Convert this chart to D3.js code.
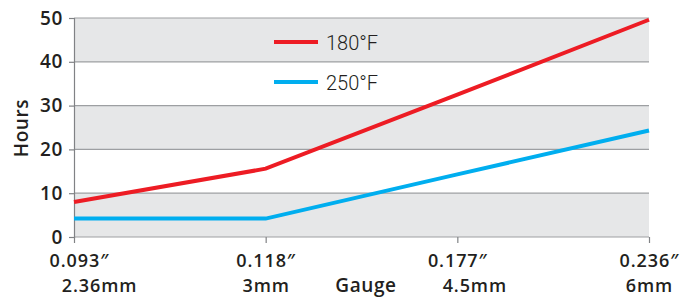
<!DOCTYPE html>
<html>
<head>
<meta charset="utf-8">
<style>
  body { margin: 0; background: #fff; }
  text { fill: #231f20; }
</style>
</head>
<body>
<svg id="plot"></svg>
<script src="https://d3js.org/d3.v7.min.js"></script>
<script>
// chart data
var gauges = ["0.093\u2033", "0.118\u2033", "0.177\u2033", "0.236\u2033"];
var gaugesMm = ["2.36mm", "3mm", "4.5mm", "6mm"];
var hours180 = [8, 15.6, 32.5, 49.6];
var hours250 = [4.2, 4.2, 14.3, 24.3];
var yTicks = [0, 10, 20, 30, 40, 50];
var seriesNames = ["180\u00b0F", "250\u00b0F"];
var seriesColors = ["#ed1c24", "#00aeef"];

var screen = {width: 694, height: 297};
var margins = {top: 18, bottom: 60, left: 74, right: 45};
var graph = {
    width: screen.width - margins.left - margins.right,
    height: screen.height - margins.top - margins.bottom
};

// the reference nudges a couple of the lower labels sideways
var topNudge = [5, 0, 0, 0];
var mmNudge = [25, 0, 17, 0];

var svg = d3.select("#plot")
    .attr("width", screen.width)
    .attr("height", screen.height);

var xScale = d3.scalePoint()
    .domain(gauges)
    .range([0, graph.width]);

var yScale = d3.scaleLinear()
    .domain([0, 50])
    .range([graph.height, 0]);

var g = svg.append("g")
    .attr("transform", "translate(" + margins.left + "," + margins.top + ")");

// label styling used everywhere
var styleLabel = function(sel, size) {
    sel.attr("font-family", "Open Sans, sans-serif")
        .attr("font-weight", 600)
        .attr("font-size", size || 19)
        .attr("letter-spacing", size ? 0.9 : 0.6)
        .attr("fill", "#231f20");
};

// alternating bands
var bands = d3.range(0, 50, 10);
g.selectAll("rect.band")
    .data(bands)
    .enter()
    .append("rect")
    .attr("x", 0)
    .attr("width", graph.width)
    .attr("y", function(d) { return yScale(d + 10); })
    .attr("height", function(d) { return yScale(d) - yScale(d + 10); })
    .attr("fill", function(d) { return (d / 10) % 2 == 0 ? "#e6e7e8" : "#ffffff"; });

// gridlines
g.selectAll("line.grid")
    .data(yTicks)
    .enter()
    .append("line")
    .attr("x1", 0)
    .attr("x2", graph.width)
    .attr("y1", function(d) { return yScale(d); })
    .attr("y2", function(d) { return yScale(d); })
    .attr("stroke", "#9d9fa2")
    .attr("stroke-width", 1.2);

// y axis
var yAxis = g.append("g")
    .call(d3.axisLeft(yScale).tickValues(yTicks).tickSize(5).tickPadding(6));
yAxis.select(".domain").attr("stroke", "#808285").attr("stroke-width", 1.2);
yAxis.selectAll(".tick line").attr("stroke", "#808285").attr("stroke-width", 1.2);
yAxis.selectAll(".tick text").call(styleLabel);

// x axis
var xAxis = g.append("g")
    .attr("transform", "translate(0," + graph.height + ")")
    .call(d3.axisBottom(xScale).tickSize(6).tickFormat(""));
xAxis.select(".domain").remove();
xAxis.selectAll(".tick line").attr("stroke", "#808285").attr("stroke-width", 1.2);
xAxis.selectAll(".tick text").remove();
xAxis.selectAll(".tick")
    .append("text")
    .attr("x", function(d, i) { return topNudge[i]; })
    .attr("y", 30)
    .attr("text-anchor", "middle")
    .call(styleLabel, 18)
    .text(function(d) { return d; });
xAxis.selectAll(".tick")
    .append("text")
    .attr("x", function(d, i) { return mmNudge[i]; })
    .attr("y", 55)
    .attr("text-anchor", "middle")
    .call(styleLabel, 18)
    .text(function(d, i) { return gaugesMm[i]; });

// lines
var line = d3.line()
    .x(function(d, i) { return xScale(gauges[i]); })
    .y(function(d) { return yScale(d); });

[hours180, hours250].forEach(function(series, i) {
    g.append("path")
        .datum(series)
        .attr("fill", "none")
        .attr("stroke", seriesColors[i])
        .attr("stroke-width", 4)
        .attr("d", line);
});

// legend
var legend = g.selectAll("g.legend")
    .data(seriesNames)
    .enter()
    .append("g")
    .attr("transform", function(d, i) { return "translate(200," + (24 + i * 40) + ")"; });
legend.append("line")
    .attr("x1", 0).attr("x2", 44)
    .attr("stroke", function(d, i) { return seriesColors[i]; })
    .attr("stroke-width", 4);
legend.append("text")
    .attr("x", 52)
    .attr("y", 7.5)
    .attr("font-family", "Roboto, sans-serif")
    .attr("font-weight", 300)
    .attr("font-size", 20)
    .text(function(d) { return d; });

// axis titles
svg.append("text")
    .attr("x", 366)
    .attr("y", 292)
    .attr("text-anchor", "middle")
    .call(styleLabel)
    .text("Gauge");

svg.append("text")
    .attr("transform", "translate(28," + (margins.top + 110) + ") rotate(-90)")
    .attr("text-anchor", "middle")
    .call(styleLabel)
    .text("Hours");
</script>
</body>
</html>
